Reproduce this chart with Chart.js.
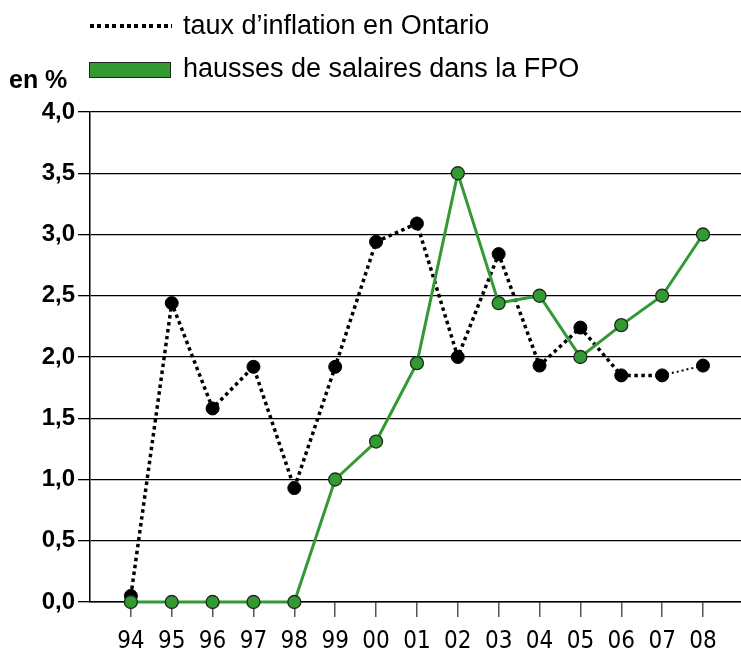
<!DOCTYPE html>
<html lang="fr">
<head>
<meta charset="utf-8">
<title>Inflation et hausses de salaires</title>
<script src="https://cdn.jsdelivr.net/npm/chart.js@4.4.1/dist/chart.umd.min.js"></script>
<style>
  html, body { margin: 0; padding: 0; background: #fff; }
  #wrap { position: relative; width: 741px; height: 649px; overflow: hidden; }
  #chart { position: absolute; left: 0; top: 0; }
  .txt { position: absolute; white-space: nowrap; color: #000;
         font-family: "Liberation Sans", Arial, sans-serif; }
  #unit { left: 9px; top: 67px; font-size: 25px; line-height: 25px; font-weight: bold; }
  #leg1 { left: 183px; top: 12px; font-size: 27px; line-height: 27px; }
  #leg2 { left: 183px; top: 55px; font-size: 27px; line-height: 27px; }
  #dots { position: absolute; left: 90px; top: 24px; width: 82px; height: 4px;
          background: repeating-linear-gradient(to right, #000 0 4px, transparent 4px 7.4px); }
  #box { position: absolute; left: 89px; top: 62px; width: 80px; height: 14px;
         background: #339933; border: 1.5px solid #1c2a1c; }
</style>
</head>
<body>
<div id="wrap">
  <canvas id="chart" width="741" height="649"></canvas>
  <div id="dots"></div>
  <div class="txt" id="leg1">taux d’inflation en Ontario</div>
  <div id="box"></div>
  <div class="txt" id="leg2">hausses de salaires dans la FPO</div>
  <div class="txt" id="unit">en %</div>
</div>
<script>
// DATA
const years = ["94", "95", "96", "97", "98", "99", "00", "01", "02", "03", "04", "05", "06", "07", "08"];
const inflationOntario = [0.05, 2.44, 1.58, 1.92, 0.93, 1.92, 2.94, 3.09, 2.00, 2.84, 1.93, 2.24, 1.85, 1.85, 1.93];
const hausseSalairesFPO = [0, 0, 0, 0, 0, 1.00, 1.31, 1.95, 3.50, 2.44, 2.50, 2.00, 2.26, 2.50, 3.00];
const yTicks = [0, 0.5, 1, 1.5, 2, 2.5, 3, 3.5, 4];

const GREEN = "#339933";

function toPoints(values) {
  return values.map((v, i) => ({ x: i, y: v }));
}

const ctx = document.getElementById("chart").getContext("2d");

new Chart(ctx, {
  type: "line",
  data: {
    datasets: [
      {
        label: "hausses de salaires dans la FPO",
        data: toPoints(hausseSalairesFPO),
        borderColor: GREEN,
        borderWidth: 3,
        pointRadius: 6.5,
        pointBackgroundColor: GREEN,
        pointBorderColor: "#1c2a1c",
        pointBorderWidth: 1.3,
        clip: false
      },
      {
        label: "taux d’inflation en Ontario",
        data: toPoints(inflationOntario),
        borderColor: "#000",
        borderWidth: 3.5,
        borderDash: [3.5, 3.5],
        pointRadius: 6.5,
        pointBackgroundColor: "#000",
        pointBorderColor: "#000",
        pointBorderWidth: 1,
        clip: false,
        segment: {
          // last stretch is drawn thinner in the original
          borderWidth: c => (c.p0DataIndex === 13 ? 2 : 3.5),
          borderDash: c => (c.p0DataIndex === 13 ? [2, 3] : [3.5, 3.5])
        }
      }
    ]
  },
  options: {
    responsive: false,
    animation: false,
    layout: { autoPadding: false, padding: { top: 112, left: 0, right: 0, bottom: 0 } },
    plugins: {
      legend: { display: false },
      tooltip: { enabled: false }
    },
    scales: {
      x: {
        type: "linear",
        min: -1,
        max: 14.93,
        afterBuildTicks: s => { s.ticks = years.map((_, i) => ({ value: i })); },
        afterFit: s => { s.height = 47; },
        ticks: {
          callback: v => years[v],
          autoSkip: false,
          maxRotation: 0,
          color: "#000",
          padding: 10,
          font: { family: '"Liberation Sans Narrow", "DejaVu Sans Condensed", sans-serif', size: 24 }
        },
        grid: { drawOnChartArea: false, tickLength: 15, color: "#555", lineWidth: 1.5 },
        border: { display: true, color: "#000", width: 1.5 }
      },
      y: {
        min: 0,
        max: 4,
        afterBuildTicks: s => { s.ticks = yTicks.map(v => ({ value: v })); },
        afterFit: s => { s.width = 90; },
        ticks: {
          callback: v => v.toFixed(1).replace(".", ","),
          color: "#000",
          padding: 3,
          font: { family: '"Liberation Sans", Arial, sans-serif', size: 24, weight: "bold" }
        },
        grid: { color: "#000", lineWidth: 1.3, tickLength: 12 },
        border: { display: true, color: "#000", width: 1.5 }
      }
    }
  }
});
</script>
</body>
</html>
